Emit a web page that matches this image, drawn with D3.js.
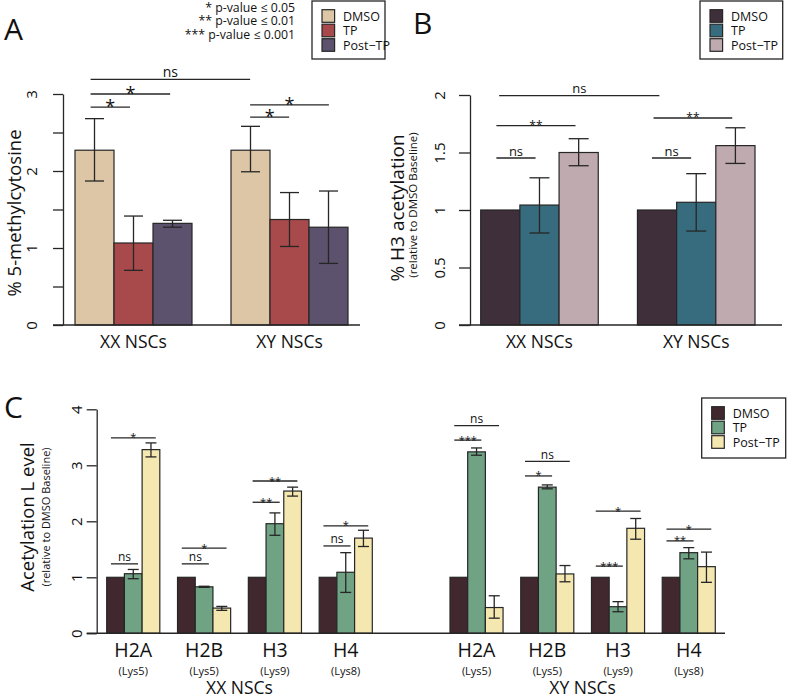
<!DOCTYPE html>
<html><head><meta charset="utf-8">
<script src="https://cdnjs.cloudflare.com/ajax/libs/d3/7.8.5/d3.min.js"></script>
<style>body{margin:0;background:#fff}svg{font-family:"Open Sans",sans-serif}</style>
</head><body>
<svg id="chart" width="787" height="698"></svg>
<script>
// ---------- DATA ----------
const seriesNames = ["DMSO", "TP", "Post\u2212TP"];
const pValueNotes = ["* p-value \u2264 0.05", "** p-value \u2264 0.01", "*** p-value \u2264 0.001"];

// Panel A: % 5-methylcytosine
const groupsA = ["XX NSCs", "XY NSCs"];
const aDMSO = [2.27, 2.27], aDMSOlo = [1.87, 1.99], aDMSOhi = [2.68, 2.58];
const aTP = [1.065, 1.37], aTPlo = [0.71, 1.02], aTPhi = [1.415, 1.72];
const aPost = [1.32, 1.27], aPostlo = [1.27, 0.80], aPosthi = [1.36, 1.74];
const ticksA = [0, 0.5, 1, 1.5, 2, 2.5, 3];
// brackets: [group1, barOffset1, group2, barOffset2, yValue, label]
const bracketsA = [
  [0, 0.4, 1, 0.49, 3.19, "ns"],
  [0, 0.4, 0, 2.44, 3.0, "*"],
  [0, 0.4, 0, 1.41, 2.83, "*"],
  [1, 0.49, 1, 2.51, 2.86, "*"],
  [1, 0.49, 1, 1.49, 2.70, "*"]
];

// Panel B: % H3 acetylation
const groupsB = ["XX NSCs", "XY NSCs"];
const bDMSO = [1, 1];
const bTP = [1.043, 1.067], bTPlo = [0.80, 0.817], bTPhi = [1.28, 1.316];
const bPost = [1.50, 1.56], bPostlo = [1.385, 1.405], bPosthi = [1.62, 1.715];
const ticksB = [0, 0.5, 1, 1.5, 2];
const bracketsB = [
  [0, 0.47, 1, 0.56, 1.994, "ns"],
  [0, 0.40, 0, 2.42, 1.733, "**"],
  [0, 0.40, 0, 1.40, 1.452, "ns"],
  [1, 0.41, 1, 2.42, 1.80, "**"],
  [1, 0.37, 1, 1.37, 1.452, "ns"]
];

// Panel C: Acetylation level
const histones = ["H2A", "H2B", "H3", "H4"];
const sites = ["(Lys5)", "(Lys5)", "(Lys9)", "(Lys8)"];
const cellTypes = ["XX NSCs", "XY NSCs"];
const cDMSO = [1, 1, 1, 1];
const cXXTP = [1.064, 0.83, 1.957, 1.09], cXXTPlo = [0.975, 0.82, 1.75, 0.73], cXXTPhi = [1.14, 0.84, 2.15, 1.44];
const cXXPost = [3.28, 0.45, 2.54, 1.70], cXXPostlo = [3.15, 0.41, 2.45, 1.55], cXXPosthi = [3.40, 0.48, 2.61, 1.84];
const cXYTP = [3.24, 2.61, 0.475, 1.44], cXYTPlo = [3.18, 2.58, 0.385, 1.33], cXYTPhi = [3.31, 2.65, 0.565, 1.53];
const cXYPost = [0.46, 1.06, 1.875, 1.19], cXYPostlo = [0.27, 0.92, 1.68, 0.91], cXYPosthi = [0.67, 1.21, 2.05, 1.45];
const ticksC = [0, 1, 2, 3, 4];
// [histone index, target bar (1=TP, 2=Post-TP), yValue, label]
const bracketsCXX = [
  [0, 1, 1.24, "ns"], [0, 2, 3.49, "*"],
  [1, 1, 1.24, "ns"], [1, 2, 1.52, "*"],
  [2, 1, 2.34, "**"], [2, 2, 2.72, "**"],
  [3, 1, 1.56, "ns"], [3, 2, 1.92, "*"]
];
const bracketsCXY = [
  [0, 1, 3.45, "***"], [0, 2, 3.71, "ns"],
  [1, 1, 2.81, "*"], [1, 2, 3.07, "ns"],
  [2, 1, 1.20, "***"], [2, 2, 2.18, "*"],
  [3, 1, 1.65, "**"], [3, 2, 1.86, "*"]
];

const colorsA = ["#dcc6a6", "#a84a4b", "#5c526e"];
const colorsB = ["#3f2f3a", "#376b7e", "#bfaab0"];
const colorsC = ["#40282e", "#6fa384", "#f5e7b0"];

// ---------- DRAWING ----------
const svg = d3.select("#chart");
const INK = "#262626";

function drawBars(xg, y, groups, series, colors, capHalf) {
  const inner = d3.scaleBand().domain(d3.range(series.length)).range([0, xg.bandwidth()]);
  series.forEach((s, si) => {
    groups.forEach((g, gi) => {
      const x = xg(g) + inner(si), w = inner.bandwidth(), v = s.mean[gi];
      svg.append("rect").attr("x", x).attr("y", y(v)).attr("width", w).attr("height", y(0) - y(v))
        .attr("fill", colors[si]).attr("stroke", INK).attr("stroke-width", 1.2);
    });
  });
  series.forEach((s, si) => {
    if (!s.lo) return;
    groups.forEach((g, gi) => {
      const cx = xg(g) + inner(si) + inner.bandwidth() / 2;
      const e = svg.append("g").attr("stroke", INK).attr("stroke-width", 1.3);
      e.append("line").attr("x1", cx).attr("x2", cx).attr("y1", y(s.lo[gi])).attr("y2", y(s.hi[gi]));
      [s.lo[gi], s.hi[gi]].forEach(v => e.append("line").attr("x1", cx - capHalf).attr("x2", cx + capHalf).attr("y1", y(v)).attr("y2", y(v)));
    });
  });
  return inner.bandwidth();
}

function bracket(x1, x2, yp, label, nsSize, starSize) {
  svg.append("line").attr("x1", x1).attr("x2", x2).attr("y1", yp).attr("y2", yp).attr("stroke", INK).attr("stroke-width", 1.3);
  const isNs = label === "ns";
  svg.append("text").attr("x", (x1 + x2) / 2).attr("y", isNs ? yp - 2.5 : yp + starSize * 0.32)
    .attr("text-anchor", "middle").attr("font-size", isNs ? nsSize : starSize).attr("fill", "#111").text(label);
}

function yAxis(y, axisX, ticks, labelFn, tickLen, labelOff, fontSize) {
  const g = svg.append("g").attr("transform", `translate(${axisX},0)`)
    .call(d3.axisLeft(y).tickValues(ticks).tickSize(tickLen).tickSizeOuter(0).tickFormat(labelFn));
  g.select(".domain").attr("stroke", INK).attr("stroke-width", 1.3);
  g.selectAll(".tick line").attr("stroke", INK).attr("stroke-width", 1.3);
  g.selectAll(".tick text").attr("x", 0).attr("dy", "0.36em").attr("text-anchor", "middle")
    .attr("transform", `translate(${-labelOff},0) rotate(-90)`)
    .attr("font-size", fontSize).attr("font-family", '"Open Sans",sans-serif').attr("fill", "#111");
}

function legend(x, y, w, h, colors, fontSize) {
  svg.append("rect").attr("x", x).attr("y", y).attr("width", w).attr("height", h)
    .attr("fill", "#fff").attr("stroke", INK).attr("stroke-width", 1.3);
  seriesNames.forEach((n, i) => {
    const cy = y + 15 + i * 14.5;
    svg.append("rect").attr("x", x + 10).attr("y", cy - 6.3).attr("width", 12.6).attr("height", 12.6)
      .attr("fill", colors[i]).attr("stroke", INK).attr("stroke-width", 1.2);
    svg.append("text").attr("x", x + 31).attr("y", cy).attr("dy", "0.36em").attr("font-size", fontSize).attr("fill", "#111").text(n);
  });
}

function yLabel(x, cy, text, size) {
  svg.append("text").attr("transform", `translate(${x},${cy}) rotate(-90)`).attr("text-anchor", "middle")
    .attr("font-size", size).attr("fill", "#111").text(text);
}

function panelLetter(x, y, t) {
  svg.append("text").attr("x", x).attr("y", y).attr("font-size", 30).attr("fill", "#111").text(t);
}

// ---- Panel A ----
{
  const y = d3.scaleLinear().domain([0, 3]).range([325, 94]);
  const xg = d3.scaleBand().domain(groupsA).range([75, 348]).paddingInner(0.25);
  const bw = drawBars(xg, y, groupsA, [
    { mean: aDMSO, lo: aDMSOlo, hi: aDMSOhi },
    { mean: aTP, lo: aTPlo, hi: aTPhi },
    { mean: aPost, lo: aPostlo, hi: aPosthi }], colorsA, 9.5);
  svg.append("line").attr("x1", 53).attr("x2", 360).attr("y1", y(0)).attr("y2", y(0)).attr("stroke", INK).attr("stroke-width", 1.4);
  yAxis(y, 63, ticksA, d => Number.isInteger(d) ? d : "", 10, 31, 15);
  bracketsA.forEach(b => bracket(xg(groupsA[b[0]]) + b[1] * bw, xg(groupsA[b[2]]) + b[3] * bw, y(b[4]), b[5], 14, 18));
  groupsA.forEach(g => svg.append("text").attr("x", xg(g) + xg.bandwidth() / 2).attr("y", 348).attr("text-anchor", "middle").attr("font-size", 17.5).attr("fill", "#111").text(g));
  yLabel(21, 213, "% 5-methylcytosine", 18.5);
  legend(312, 1, 73, 58, colorsA, 12.5);
  pValueNotes.forEach((t, i) => svg.append("text").attr("x", 295).attr("y", 7.5 + i * 13.5).attr("dy", "0.36em").attr("text-anchor", "end").attr("font-size", 12.3).attr("fill", "#111").text(t));
  panelLetter(4, 40, "A");
}

// ---- Panel B ----
{
  const y = d3.scaleLinear().domain([0, 2]).range([325, 95]);
  const xg = d3.scaleBand().domain(groupsB).range([480.7, 755]).paddingInner(0.25);
  const bw = drawBars(xg, y, groupsB, [
    { mean: bDMSO },
    { mean: bTP, lo: bTPlo, hi: bTPhi },
    { mean: bPost, lo: bPostlo, hi: bPosthi }], colorsB, 10);
  svg.append("line").attr("x1", 459).attr("x2", 782).attr("y1", y(0)).attr("y2", y(0)).attr("stroke", INK).attr("stroke-width", 1.4);
  yAxis(y, 470, ticksB, d => d, 11, 30, 15);
  bracketsB.forEach(b => bracket(xg(groupsB[b[0]]) + b[1] * bw, xg(groupsB[b[2]]) + b[3] * bw, y(b[4]), b[5], 13, 12));
  groupsB.forEach(g => svg.append("text").attr("x", xg(g) + xg.bandwidth() / 2).attr("y", 348).attr("text-anchor", "middle").attr("font-size", 17.5).attr("fill", "#111").text(g));
  yLabel(404, 208, "% H3 acetylation", 19);
  yLabel(417, 205, "(relative to DMSO Baseline)", 11.5);
  legend(700, 1, 82.7, 58, colorsB, 12.5);
  panelLetter(413, 34, "B");
}

// ---- Panel C ----
{
  const y = d3.scaleLinear().domain([0, 4]).range([633.3, 409.3]);
  const xXX = d3.scaleBand().domain(histones).range([106.7, 372.3]).paddingInner(0.25);
  const xXY = d3.scaleBand().domain(histones).range([450, 715.3]).paddingInner(0.25);
  const bw = drawBars(xXX, y, histones, [
    { mean: cDMSO },
    { mean: cXXTP, lo: cXXTPlo, hi: cXXTPhi },
    { mean: cXXPost, lo: cXXPostlo, hi: cXXPosthi }], colorsC, 5.5);
  drawBars(xXY, y, histones, [
    { mean: cDMSO },
    { mean: cXYTP, lo: cXYTPlo, hi: cXYTPhi },
    { mean: cXYPost, lo: cXYPostlo, hi: cXYPosthi }], colorsC, 5.5);
  svg.append("line").attr("x1", 86.7).attr("x2", 725).attr("y1", y(0)).attr("y2", y(0)).attr("stroke", INK).attr("stroke-width", 1.4);
  yAxis(y, 96.7, ticksC, d => d, 10, 20, 15);
  [[xXX, bracketsCXX], [xXY, bracketsCXY]].forEach(([xs, brs]) => {
    brs.forEach(b => bracket(xs(histones[b[0]]) + 0.24 * bw, xs(histones[b[0]]) + (b[1] + 0.77) * bw, y(b[2]), b[3], 12, 11));
  });
  [xXX, xXY].forEach((xs, ci) => {
    histones.forEach((h, i) => {
      const cx = xs(h) + xs.bandwidth() / 2;
      svg.append("text").attr("x", cx).attr("y", 657).attr("text-anchor", "middle").attr("font-size", 19.5).attr("fill", "#111").text(h);
      svg.append("text").attr("x", cx).attr("y", 674.5).attr("text-anchor", "middle").attr("font-size", 11).attr("fill", "#111").text(sites[i]);
    });
    const r = xs.range();
    svg.append("text").attr("x", (r[0] + r[1]) / 2).attr("y", 694).attr("text-anchor", "middle").attr("font-size", 17.5).attr("fill", "#111").text(cellTypes[ci]);
  });
  yLabel(34, 517, "Acetylation L evel", 18.5);
  yLabel(50, 517, "(relative to DMSO Baseline)", 11);
  legend(701.7, 398, 84, 60, colorsC, 12.5);
  panelLetter(4, 418, "C");
}
</script>
</body></html>
